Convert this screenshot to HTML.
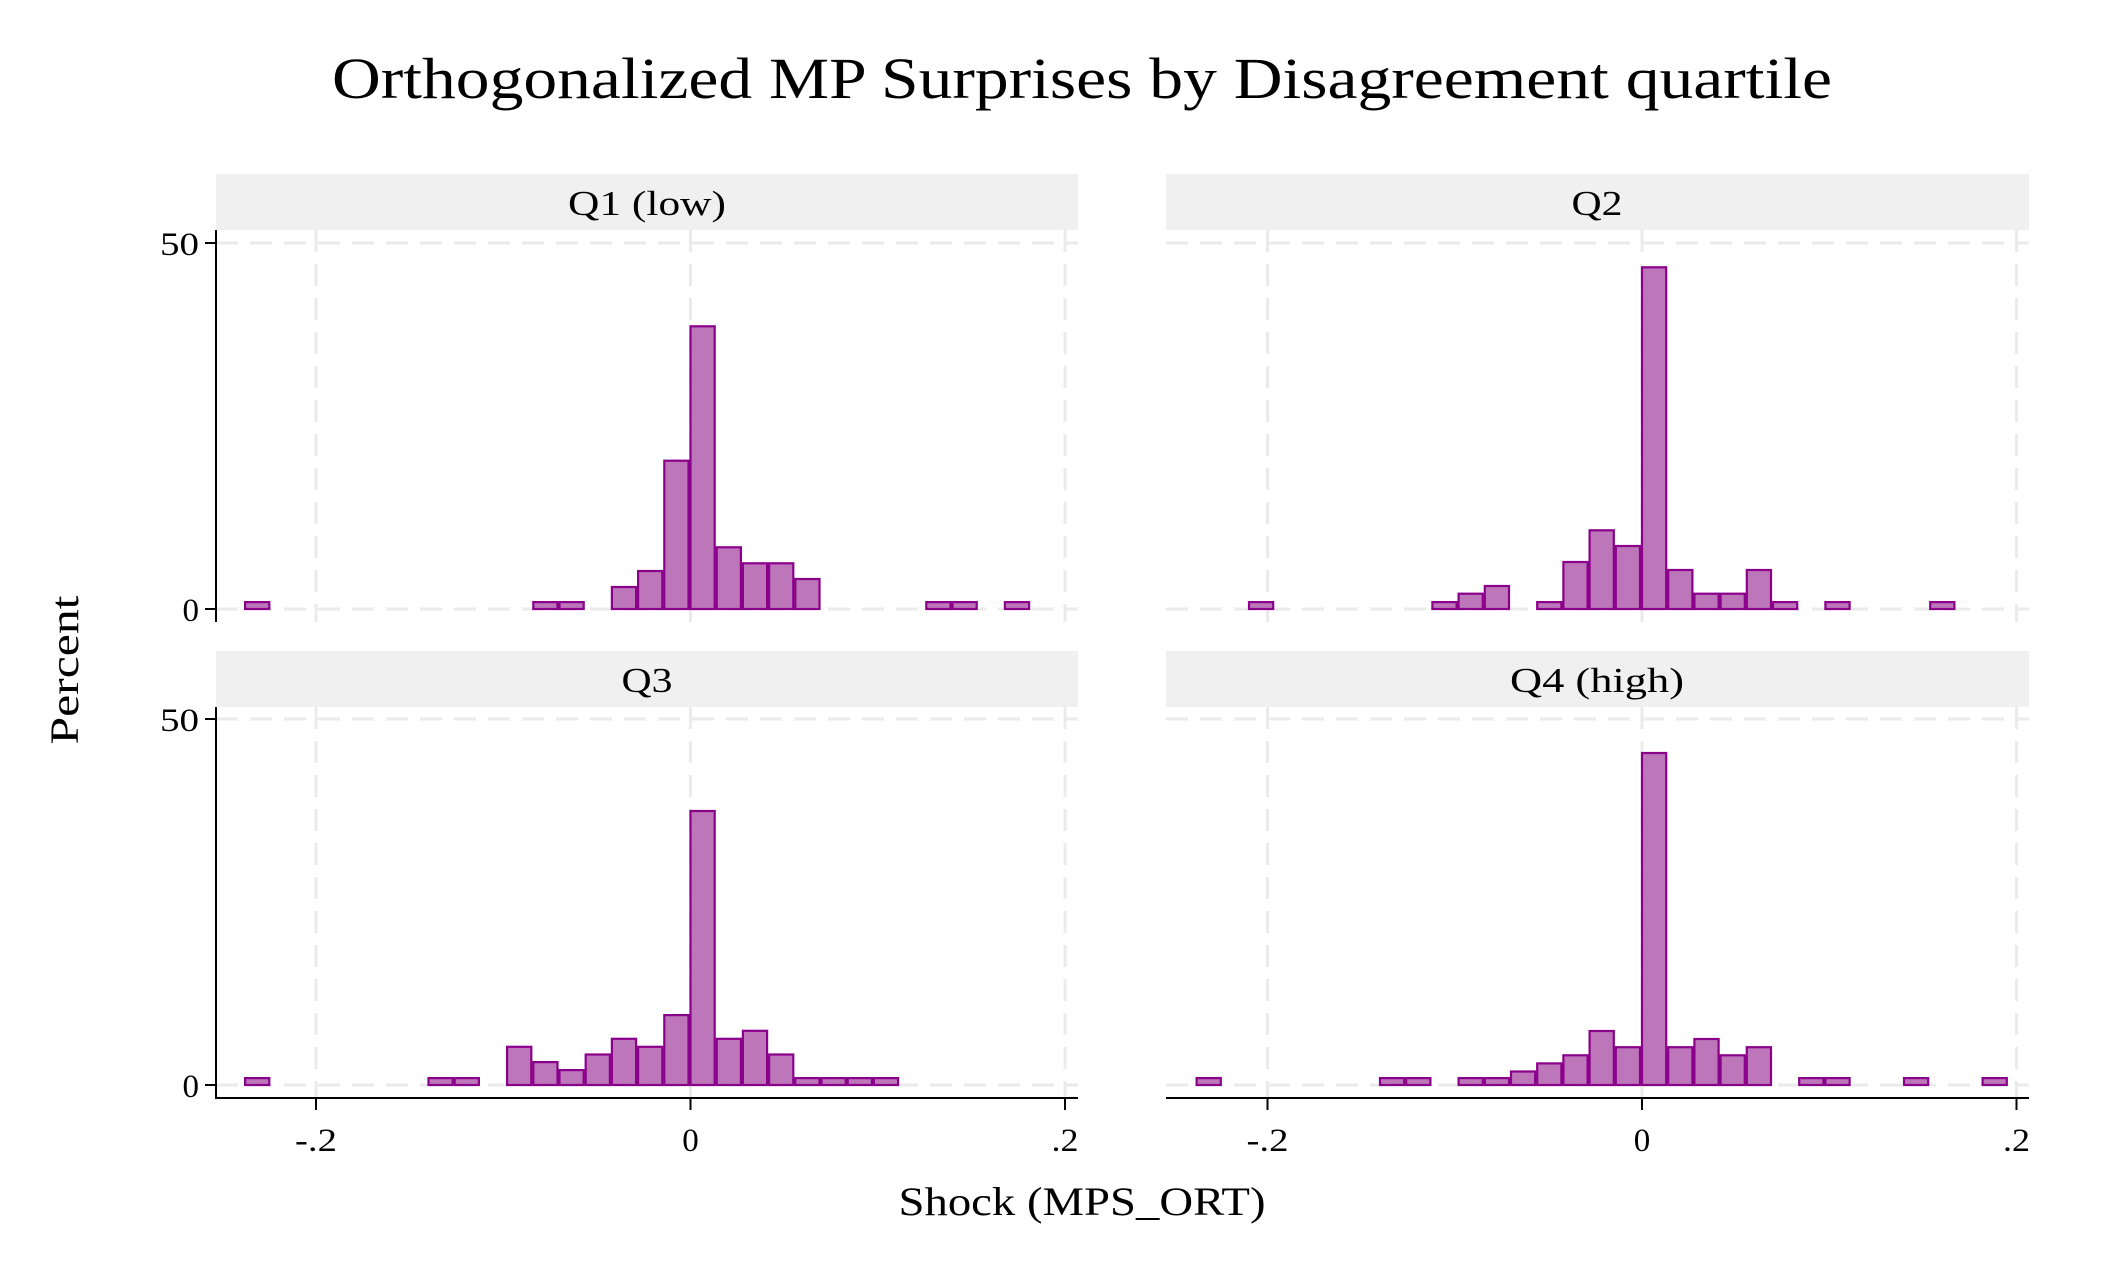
<!DOCTYPE html>
<html><head><meta charset="utf-8"><style>
html,body{margin:0;padding:0;background:#fff}
svg{display:block}
text{font-family:"Liberation Serif","DejaVu Serif",serif;fill:#000}
</style></head><body>
<svg id="s" width="2120" height="1272" viewBox="0 0 2120 1272" xmlns="http://www.w3.org/2000/svg">
<rect width="2120" height="1272" fill="#fff"/>
<text x="1082" y="98" font-size="58" text-anchor="middle" textLength="1500" lengthAdjust="spacingAndGlyphs">Orthogonalized MP Surprises by Disagreement quartile</text>
<g id="grid" stroke="#ebebeb" stroke-width="3" stroke-dasharray="22,12" fill="none"></g>
<rect x="216" y="174" width="862" height="56" fill="#f0f0f0"/>
<rect x="1166" y="174" width="863" height="56" fill="#f0f0f0"/>
<rect x="216" y="651" width="862" height="56" fill="#f0f0f0"/>
<rect x="1166" y="651" width="863" height="56" fill="#f0f0f0"/>
<g font-size="35" text-anchor="middle" lengthAdjust="spacingAndGlyphs">
<text x="647" y="215" textLength="158" lengthAdjust="spacingAndGlyphs">Q1 (low)</text>
<text x="1597" y="215" textLength="51" lengthAdjust="spacingAndGlyphs">Q2</text>
<text x="647" y="692" textLength="51" lengthAdjust="spacingAndGlyphs">Q3</text>
<text x="1597" y="692" textLength="174" lengthAdjust="spacingAndGlyphs">Q4 (high)</text>
</g>
<g id="bars" fill="#bc76b9" stroke="#8b008b" stroke-width="2.2"></g>
<g stroke="#000" stroke-width="2" fill="none">
<line x1="216" y1="230" x2="216" y2="622"/>
<line x1="216" y1="707" x2="216" y2="1099"/>
<line x1="205" y1="243" x2="216" y2="243"/>
<line x1="205" y1="609" x2="216" y2="609"/>
<line x1="205" y1="719" x2="216" y2="719"/>
<line x1="205" y1="1085" x2="216" y2="1085"/>
<line x1="215" y1="1098" x2="1078" y2="1098"/>
<line x1="1166" y1="1098" x2="2029" y2="1098"/>
<line x1="316" y1="1098" x2="316" y2="1110"/>
<line x1="690.5" y1="1098" x2="690.5" y2="1110"/>
<line x1="1065" y1="1098" x2="1065" y2="1110"/>
<line x1="1267.5" y1="1098" x2="1267.5" y2="1110"/>
<line x1="1642" y1="1098" x2="1642" y2="1110"/>
<line x1="2016.5" y1="1098" x2="2016.5" y2="1110"/>
</g>
<g font-size="33" text-anchor="end">
<text x="199" y="255" textLength="39" lengthAdjust="spacingAndGlyphs">50</text><text x="199" y="621">0</text>
<text x="199" y="731" textLength="39" lengthAdjust="spacingAndGlyphs">50</text><text x="199" y="1097">0</text>
</g>
<g font-size="33" text-anchor="middle">
<text x="316" y="1151" textLength="42" lengthAdjust="spacingAndGlyphs">-.2</text><text x="690.5" y="1151">0</text><text x="1065" y="1151" textLength="27" lengthAdjust="spacingAndGlyphs">.2</text>
<text x="1267.5" y="1151" textLength="42" lengthAdjust="spacingAndGlyphs">-.2</text><text x="1642" y="1151">0</text><text x="2016.5" y="1151" textLength="27" lengthAdjust="spacingAndGlyphs">.2</text>
</g>
<text x="1082" y="1215" font-size="40" text-anchor="middle" textLength="367" lengthAdjust="spacingAndGlyphs">Shock (MPS_ORT)</text>
<text transform="translate(78,670) rotate(-90)" font-size="40" text-anchor="middle" textLength="149" lengthAdjust="spacingAndGlyphs">Percent</text>
</svg>
<script>
var NS="http://www.w3.org/2000/svg";
function el(p,t,a){var e=document.createElementNS(NS,t);for(var k in a)e.setAttribute(k,a[k]);p.appendChild(e);}
var g=document.getElementById("grid");
var panels=[[216,1078,243,609,230,622,0],[1166,2029,243,609,230,622,951.5],[216,1078,719,1085,707,1098,0],[1166,2029,719,1085,707,1098,951.5]];
panels.forEach(function(p){
 el(g,"line",{x1:p[0],x2:p[1],y1:p[2],y2:p[2]});
 el(g,"line",{x1:p[0],x2:p[1],y1:p[3],y2:p[3]});
 [316,690.5,1065].forEach(function(x){el(g,"line",{x1:x+p[6],x2:x+p[6],y1:p[4],y2:p[5]});});
});
var s=6.9;
var data=[
 {o:0,b:609,d:{"-17":s,"-6":s,"-5":s,"-3":22,"-2":38,"-1":148.3,"0":282.7,"1":61.7,"2":45.7,"3":45.7,"4":30,"9":s,"10":s,"12":s}},
 {o:951.5,b:609,d:{"-15":s,"-8":s,"-7":15.3,"-6":23,"-4":s,"-3":47,"-2":78.7,"-1":63,"0":341.7,"1":39,"2":15.3,"3":15.3,"4":39,"5":s,"7":s,"11":s}},
 {o:0,b:1085,d:{"-17":s,"-10":s,"-9":s,"-7":38.2,"-6":22.9,"-5":14.9,"-4":30.5,"-3":46.2,"-2":38.2,"-1":69.9,"0":274,"1":46.2,"2":54.2,"3":30.5,"4":s,"5":s,"6":s,"7":s}},
 {o:951.5,b:1085,d:{"-17":s,"-10":s,"-9":s,"-7":s,"-6":s,"-5":13.5,"-4":21.6,"-3":29.7,"-2":54,"-1":37.8,"0":332,"1":37.8,"2":46,"3":29.7,"4":37.8,"6":s,"7":s,"10":s,"13":s}}
];
var bg=document.getElementById("bars");
data.forEach(function(p){for(var k in p.d){var h=p.d[k];var x=689.5+26.2*(+k)+p.o;el(bg,"rect",{x:x+1,y:p.b-h,width:24.2,height:h});}});
</script>
</body></html>
